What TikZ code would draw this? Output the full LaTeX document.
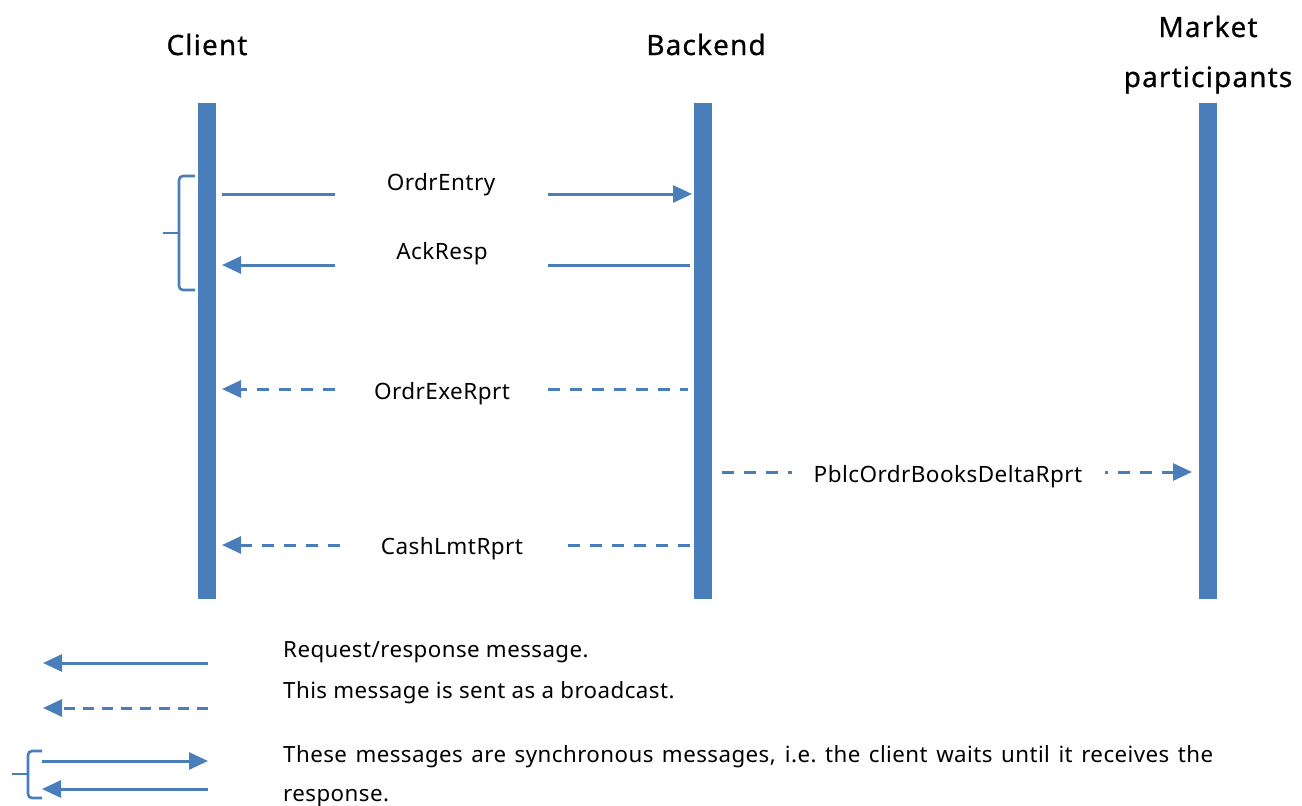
\documentclass[tikz,border=0pt]{standalone}
\usepackage{fontspec}
\setmainfont{Noto Sans}
\newfontfamily\ttlfont{Noto Sans}[FakeBold=0.6,LetterSpace=4]
\newfontfamily\lblfont{Noto Sans}[LetterSpace=2]
\usetikzlibrary{arrows.meta}
\definecolor{lblue}{HTML}{4A7EBB}
\begin{document}
\begin{tikzpicture}[x=1pt,y=-1pt,
  bar/.style={fill=lblue,draw=none,minimum width=18pt,minimum height=496pt,inner sep=0pt},
  msg/.style={draw=lblue,line width=3pt},
  dmsg/.style={msg,dash pattern=on 12pt off 10pt},
  tip/.style={-{Triangle[length=19pt,width=17pt]}},
  lbl/.style={font=\lblfont\fontsize{22.5}{27}\selectfont,inner sep=0pt,anchor=base},
  ttl/.style={font=\ttlfont\fontsize{28}{33}\selectfont,inner sep=0pt,anchor=base,align=center},
  leg/.style={font=\lblfont\fontsize{22.3}{27}\selectfont,inner sep=0pt,anchor=base west},
  bracestyle/.style={draw=lblue,line width=2.6pt,rounded corners=4pt}]
\useasboundingbox (0,0) rectangle (1302,806);
% lifelines
\node[bar] (client) at (206.5,351) {};
\node[bar] (backend) at (702.5,351) {};
\node[bar] (market) at (1208,351) {};
% titles
\node[ttl] (tc) at (207,55) {Client};
\node[ttl] (tb) at (706,55) {Backend};
\node[ttl] (tm1) at (1208,37) {Market};
\node[ttl] (tm2) at (1208,87) {participants};
% coordinates
\coordinate (c1) at (222,194); \coordinate (c1b) at (335,194);
\coordinate (b1a) at (548,194); \coordinate (b1) at (692,194);
\coordinate (c2) at (222,265); \coordinate (c2b) at (335,265);
\coordinate (b2a) at (548,265); \coordinate (b2) at (690,265);
\coordinate (c3) at (222,389); \coordinate (c3b) at (335,389);
\coordinate (b3a) at (548,389); \coordinate (b3) at (688,389);
\coordinate (b4) at (722,472); \coordinate (b4b) at (792,472);
\coordinate (m4a) at (1105,472); \coordinate (m4) at (1192,472);
\coordinate (c5) at (222,545); \coordinate (c5b) at (340,545);
\coordinate (b5a) at (568,545); \coordinate (b5) at (690,545);
% messages
\draw[msg] (c1) -- (c1b);
\draw[msg,tip] (b1a) -- (b1);
\node[lbl] (l1) at (441,190) {OrdrEntry};
\draw[msg,tip] (c2b) -- (c2);
\draw[msg] (b2a) -- (b2);
\node[lbl] (l2) at (442,259) {AckResp};
\draw[dmsg,tip] (c3b) -- (c3);
\draw[dmsg] (b3a) -- (b3);
\node[lbl] (l3) at (442,399) {OrdrExeRprt};
\draw[dmsg] (b4) -- (b4b);
\draw[dmsg,dash phase=9pt,tip] (m4a) -- (m4);
\node[lbl] (l4) at (948,482) {PblcOrdrBooksDeltaRprt};
\draw[dmsg,tip] (c5b) -- (c5);
\draw[dmsg] (b5a) -- (b5);
\node[lbl] (l5) at (452,554) {CashLmtRprt};
% brace on client
\coordinate (br1) at (195,176); \coordinate (br2) at (195,290);
\draw[bracestyle] (br1) -- (179,176) -- (179,290) -- (br2);
\draw[bracestyle] (179,233) -- (163,233);
% legend
\coordinate (g1a) at (208,663); \coordinate (g1b) at (43,663);
\coordinate (g2a) at (208,708); \coordinate (g2b) at (43,708);
\coordinate (g3a) at (42,761); \coordinate (g3b) at (208,761);
\coordinate (g4a) at (208,789); \coordinate (g4b) at (42,789);
\draw[msg,tip] (g1a) -- (g1b);
\draw[msg,tip,dash pattern=on 11pt off 8pt] (g2a) -- (g2b);
\draw[msg,tip] (g3a) -- (g3b);
\draw[msg,tip] (g4a) -- (g4b);
\draw[bracestyle] (42,751) -- (28,751) -- (28,798) -- (42,798);
\draw[bracestyle] (28,774) -- (12,774);
\node[leg] (t1) at (283,657) {Request/response message.};
\node[leg] (t2) at (283,698) {This message is sent as a broadcast.};
\node[leg] (t3) at (283,762) {\hbox to 930pt{These messages are synchronous messages, i.e.\ the client waits until it receives the}};
\node[leg] (t4) at (283,801) {response.};
\end{tikzpicture}
\end{document}
